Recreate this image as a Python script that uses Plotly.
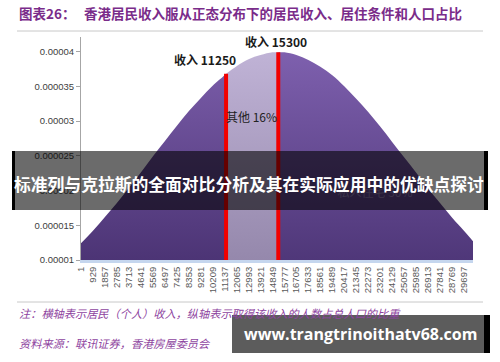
import plotly.graph_objects as go

# ---- data ----
income = [1, 929, 1857, 2785, 3713, 4641, 5569, 6497, 7425, 8353, 9281, 10209,
          11137, 12065, 12993, 13921, 14849, 15777, 16705, 17633, 18561, 19489,
          20417, 21345, 22273, 23201, 24129, 25057, 25985, 26913, 27841, 28769,
          29697, 30400]
share = [1.24e-5, 1.42e-5, 1.62e-5, 1.82e-5, 2.04e-5, 2.26e-5, 2.49e-5, 2.71e-5,
         2.93e-5, 3.14e-5, 3.33e-5, 3.51e-5, 3.66e-5, 3.79e-5, 3.89e-5, 3.95e-5,
         3.99e-5, 3.99e-5, 3.95e-5, 3.88e-5, 3.78e-5, 3.66e-5, 3.50e-5, 3.32e-5,
         3.13e-5, 2.92e-5, 2.70e-5, 2.48e-5, 2.26e-5, 2.03e-5, 1.82e-5, 1.61e-5,
         1.42e-5, 1.27e-5]
tick_labels = [str(v) for v in income[:-1]]
cut_income = [11250, 15300]
cut_share = [3.68e-5, 3.99e-5]
y_ticks = [1e-5, 1.5e-5, 2e-5, 2.5e-5, 3e-5, 3.5e-5, 4e-5]
y_tick_text = ["0.00001", "0.000015", "0.00002", "0.000025", "0.00003", "0.000035", "0.00004"]

# ---- layout geometry (pixels) ----
L, R, T, B = 81, 473, 37, 260
W, H = R - L, B - T
def xp(p): return (p - L) / W
def yp(p): return (B - p) / H

CJK = "Noto Sans CJK SC"
fig = go.Figure()

def segment(lo, hi, lo_pt=None, hi_pt=None):
    xs, ys = [], []
    if lo_pt: xs.append(lo_pt[0]); ys.append(lo_pt[1])
    for x, y in zip(income, share):
        if lo < x < hi:
            xs.append(x); ys.append(y)
    if hi_pt: xs.append(hi_pt[0]); ys.append(hi_pt[1])
    return xs, ys

p1 = (cut_income[0], cut_share[0])
p2 = (cut_income[1], cut_share[1])
segs = [
    (segment(-1, cut_income[0], None, p1), [[0, "#4c3475"], [1, "#7c5eab"]]),
    (segment(cut_income[0], cut_income[1], p1, p2), [[0, "#9588ac"], [1, "#c0b3d6"]]),
    (segment(cut_income[1], 1e9, p2, None), [[0, "#4f3779"], [1, "#7e60ae"]]),
]
for (xs, ys), cs in segs:
    fig.add_trace(go.Scatter(
        x=xs, y=ys, mode="lines", line=dict(width=0, shape="spline"),
        fill="tozeroy",
        fillgradient=dict(type="vertical", colorscale=cs, start=1e-5, stop=4e-5),
        hoverinfo="skip", showlegend=False))

# faint label hidden under banner
fig.add_trace(go.Scatter(x=[22800], y=[1.95e-5], mode="text", text=["私人住宅 30%"],
                         textfont=dict(family=CJK, size=12, color="#8c7bab"),
                         showlegend=False, hoverinfo="skip"))

shapes = []
for cx, cy in zip(cut_income, cut_share):
    shapes.append(dict(type="line", xref="x", yref="y", x0=cx, x1=cx, y0=1e-5, y1=cy,
                       line=dict(color="#f20000", width=4)))
# separator lines
for yy in (31, 302):
    shapes.append(dict(type="line", xref="paper", yref="paper", x0=xp(17), x1=xp(483),
                       y0=yp(yy), y1=yp(yy), line=dict(color="#c8c8c8", width=1)))
# banner
shapes.append(dict(type="rect", xref="paper", yref="paper", x0=xp(15), x1=xp(484),
                   y0=yp(210), y1=yp(151), fillcolor="rgba(0,0,0,0.58)", line=dict(width=0)))
shapes.append(dict(type="rect", xref="paper", yref="paper", x0=xp(12), x1=xp(15),
                   y0=yp(210), y1=yp(151), fillcolor="black", line=dict(width=0)))
shapes.append(dict(type="rect", xref="paper", yref="paper", x0=xp(484), x1=xp(488),
                   y0=yp(210), y1=yp(151), fillcolor="black", line=dict(width=0)))
# watermark box
shapes.append(dict(type="rect", xref="paper", yref="paper", x0=xp(232), x1=xp(484),
                   y0=yp(353), y1=yp(315), fillcolor="rgba(0,0,0,0.64)", line=dict(width=0)))
shapes.append(dict(type="rect", xref="paper", yref="paper", x0=xp(484), x1=xp(490),
                   y0=yp(353), y1=yp(315), fillcolor="black", line=dict(width=0)))

ann = []
def text(x, y, s, size, color, family=CJK, xanchor="left"):
    ann.append(dict(xref="paper", yref="paper", x=xp(x), y=yp(y), text=s, showarrow=False,
                    xanchor=xanchor, yanchor="middle",
                    font=dict(family=family, size=size, color=color)))

text(17, 13, "<b>图表26：</b>", 13.5, "#7a2c8a")
text(82, 13, "<b>香港居民收入服从正态分布下的居民收入、居住条件和人口占比</b>", 13.5, "#7a2c8a")
text(205, 60, "<b>收入 11250</b>", 12, "#1a1a1a", xanchor="center")
text(276, 42, "<b>收入 15300</b>", 12, "#1a1a1a", xanchor="center")
text(251, 116, "其他 16%", 12, "#222222", xanchor="center")
text(17, 313, "<i>注：横轴表示居民（个人）收入，纵轴表示取得该收入的人数占总人口的比重</i>", 11.2, "#8e44a0")
text(17, 343, "<i>资料来源：联讯证券，香港房屋委员会</i>", 11.2, "#8e44a0")
text(249, 184, "<b>标准列与克拉斯的全面对比分析及其在实际应用中的优缺点探讨</b>", 16.8, "white", xanchor="center")
text(360, 334, "<b>www.trangtrinoithatv68.com</b>", 16, "white", family="Open Sans", xanchor="center")

fig.update_layout(
    width=500, height=362, margin=dict(l=L, r=500 - R, t=T, b=362 - B),
    paper_bgcolor="white", plot_bgcolor="white",
    shapes=shapes, annotations=ann,
    xaxis=dict(range=[1, 30400], tickvals=income[:-1], ticktext=tick_labels, tickangle=-90,
               tickfont=dict(family="Liberation Sans", size=9.5, color="#595959"),
               showgrid=False, zeroline=False, showline=True, linecolor="#c5d6ee",
               linewidth=3, ticks=""),
    yaxis=dict(range=[1e-5, 4.21e-5], tickvals=y_ticks, ticktext=y_tick_text,
               tickfont=dict(family="Liberation Sans", size=9.5, color="#404040"),
               showgrid=False, zeroline=False, showline=True, linecolor="#a6a6a6",
               linewidth=1, ticks="outside", ticklen=4, tickcolor="#a6a6a6"),
)
fig.write_html("out.html")
